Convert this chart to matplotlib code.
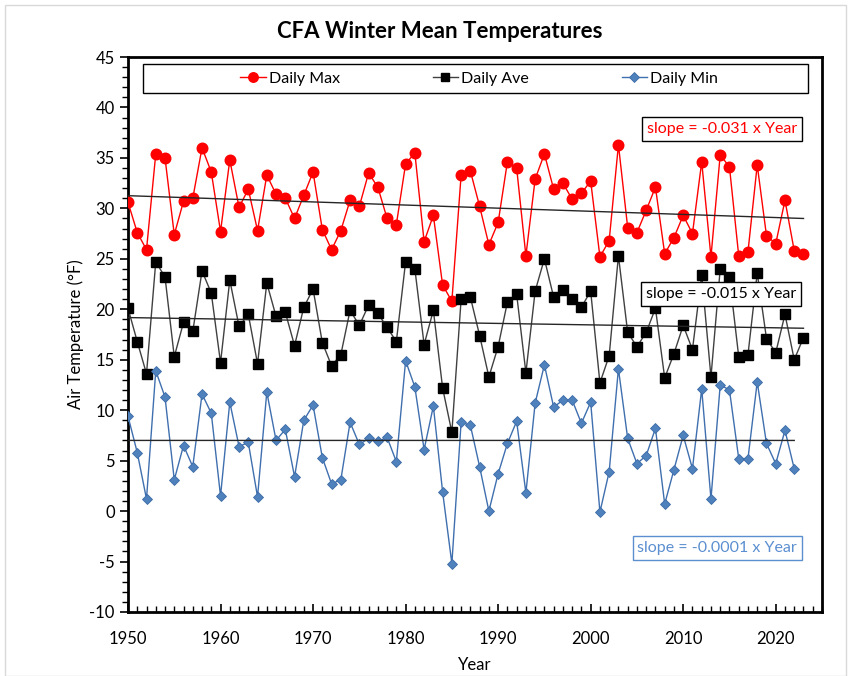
import numpy as np
import matplotlib
matplotlib.use("Agg")
import matplotlib.pyplot as plt
from matplotlib.ticker import MultipleLocator
from matplotlib.patches import Rectangle

plt.rcParams['font.family'] = ['Lato', 'DejaVu Sans']
plt.rcParams['axes.unicode_minus'] = False

# --- datos ---
years = list(range(1950, 2024))
years_min = list(range(1950, 2023))

t_max = [30.6, 27.6, 25.9, 35.4, 35.0, 27.4, 30.7, 31.0, 36.0, 33.6,
         27.7, 34.8, 30.1, 31.9, 27.8, 33.3, 31.4, 31.0, 29.0, 31.3,
         33.6, 27.9, 25.9, 27.8, 30.8, 30.2, 33.5, 32.1, 29.0, 28.4,
         34.4, 35.5, 26.7, 29.3, 22.4, 20.8, 33.3, 33.7, 30.2, 26.4,
         28.6, 34.6, 34.0, 25.3, 32.9, 35.4, 31.9, 32.5, 30.9, 31.5,
         32.7, 25.2, 26.8, 36.3, 28.1, 27.6, 29.8, 32.1, 25.5, 27.1,
         29.3, 27.5, 34.6, 25.2, 35.3, 34.1, 25.3, 25.7, 34.3, 27.3,
         26.5, 30.8, 25.8, 25.5]

t_ave = [20.1, 16.8, 13.6, 24.7, 23.2, 15.3, 18.7, 17.8, 23.8, 21.6,
         14.7, 22.9, 18.3, 19.5, 14.6, 22.6, 19.3, 19.7, 16.4, 20.2,
         22.0, 16.7, 14.4, 15.5, 19.9, 18.4, 20.4, 19.6, 18.2, 16.8,
         24.7, 24.0, 16.5, 19.9, 12.2, 7.8, 21.0, 21.2, 17.4, 13.3,
         16.3, 20.7, 21.5, 13.7, 21.8, 25.0, 21.2, 21.9, 21.0, 20.2,
         21.8, 12.7, 15.4, 25.3, 17.7, 16.3, 17.7, 20.1, 13.2, 15.6,
         18.4, 16.0, 23.4, 13.3, 24.0, 23.2, 15.3, 15.5, 23.6, 17.1,
         15.7, 19.5, 15.0, 17.2]

t_min = [9.4, 5.8, 1.2, 13.9, 11.3, 3.1, 6.5, 4.4, 11.6, 9.7,
         1.5, 10.8, 6.4, 6.8, 1.4, 11.8, 7.0, 8.1, 3.4, 9.0,
         10.5, 5.3, 2.7, 3.1, 8.8, 6.6, 7.2, 6.9, 7.3, 4.9,
         14.9, 12.3, 6.1, 10.4, 1.9, -5.2, 8.8, 8.5, 4.4, 0.0,
         3.7, 6.7, 8.9, 1.8, 10.7, 14.5, 10.3, 11.0, 11.0, 8.7,
         10.8, -0.1, 3.9, 14.1, 7.2, 4.7, 5.5, 8.2, 0.7, 4.1,
         7.5, 4.2, 12.1, 1.2, 12.5, 12.0, 5.2, 5.2, 12.8, 6.7,
         4.7, 8.0, 4.2]

slope_labels = ["slope = -0.031 x Year", "slope = -0.015 x Year", "slope = -0.0001 x Year"]

RED = "#ff0000"
BLUE = "#4f81bd"

fig = plt.figure(figsize=(8.54, 6.76), dpi=100, facecolor="white")
ax = fig.add_axes([128 / 854, 1 - 612 / 676, 694 / 854, 555 / 676])

# borde exterior tenue
fig.patches.append(Rectangle((0.006, 0.0), 0.985, 0.992, transform=fig.transFigure,
                             fill=False, edgecolor="#d9d9d9", linewidth=1))

ax.plot(years, t_max, color=RED, lw=1.0, marker="o", ms=7.6,
        mfc=RED, mec=RED, label="Daily Max", zorder=3)
ax.plot(years, t_ave, color="#404040", lw=1.0, marker="s", ms=6.6,
        mfc="black", mec="black", label="Daily Ave", zorder=3)
ax.plot(years_min, t_min, color="#3f6fae", lw=1.0, marker="D", ms=5.4,
        mfc=BLUE, mec="#3d6ca8", mew=0.6, label="Daily Min", zorder=3)

# líneas de tendencia
for xs, ys in [(years, t_max), (years, t_ave), (years_min, t_min)]:
    xs = np.array(xs)
    a, b = np.polyfit(xs, ys, 1)
    ax.plot(xs, a * xs + b, color="#262626", lw=1.0, zorder=4)

ax.set_xlim(1950, 2025)
ax.set_ylim(-10, 45)
ax.xaxis.set_major_locator(MultipleLocator(10))
ax.xaxis.set_minor_locator(MultipleLocator(1))
ax.yaxis.set_major_locator(MultipleLocator(5))
ax.yaxis.set_minor_locator(MultipleLocator(1))
ax.tick_params(axis="x", which="both", direction="in", labelsize=12, pad=14)
ax.tick_params(axis="x", which="major", length=6, width=1.2)
ax.tick_params(axis="x", which="minor", length=4, width=1.0)
ax.tick_params(axis="y", which="both", direction="out", labelsize=12)
ax.tick_params(axis="y", which="major", length=6, width=1.2)
ax.tick_params(axis="y", which="minor", length=4, width=1.0)
for s in ax.spines.values():
    s.set_linewidth(2)
    s.set_color("black")

ax.set_xlabel("Year", fontsize=12, labelpad=7)
ax.set_ylabel("Air Temperature (°F)", fontsize=12, labelpad=4)

fig.text(0.515, 0.954, "CFA Winter Mean Temperatures", ha="center", va="center",
         fontsize=16, fontweight="bold")

# leyenda con marco aparte
ax.add_patch(Rectangle((15 / 694, (612 - 93) / 555), 665 / 694, 29 / 555,
                       transform=ax.transAxes, fill=False, edgecolor="black",
                       linewidth=1, zorder=5))
ax.legend(loc="center", bbox_to_anchor=(0.506, (612 - 78.5) / 555), ncol=3,
          frameon=False, fontsize=11.5, handlelength=1.6, handletextpad=0.2,
          columnspacing=5.8, markerscale=0.9)

box_colors = [(RED, "black"), ("black", "black"), ("#5b8fd0", "#5b8fd0")]
box_pos = [(0.856, 0.870), (0.855, 0.573), (0.849, 0.115)]
for lab, (tc, ec), (bx, by) in zip(slope_labels, box_colors, box_pos):
    ax.text(bx, by, lab, transform=ax.transAxes, ha="center", va="center",
            fontsize=11.5, color=tc, zorder=6,
            bbox=dict(boxstyle="square,pad=0.3", fc="white", ec=ec, lw=1.0))

fig.savefig("out.png", dpi=100, facecolor="white")
